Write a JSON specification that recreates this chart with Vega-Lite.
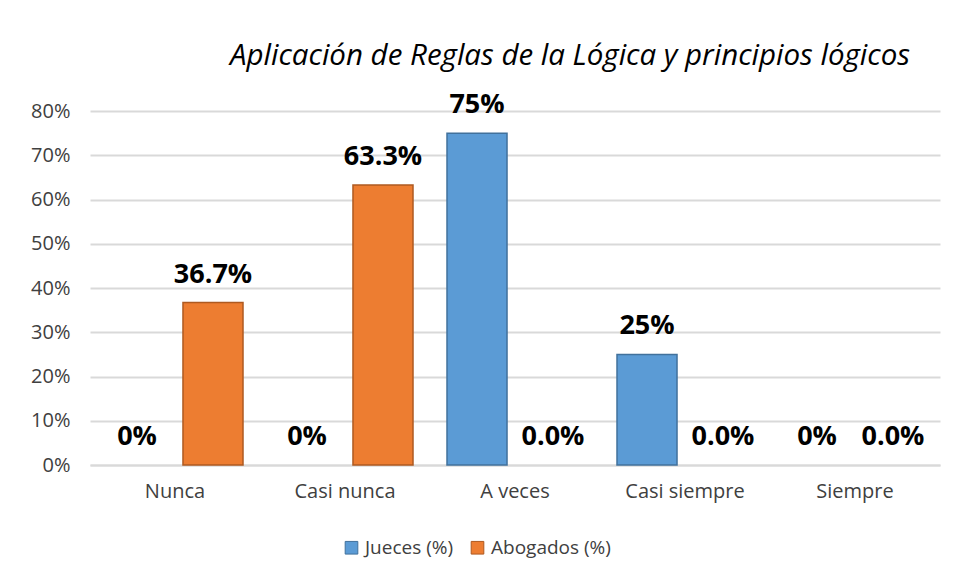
{
  "$schema": "https://vega.github.io/schema/vega-lite/v6.json",
  "width": 850,
  "height": 354,
  "autosize": "none",
  "padding": {"left": 90, "top": 111, "right": 14, "bottom": 117},
  "background": "white",
  "title": {
    "text": "Aplicación de Reglas de la Lógica y principios lógicos",
    "font": "Open Sans",
    "fontStyle": "italic",
    "fontWeight": "normal",
    "fontSize": 29.5,
    "color": "#000000",
    "anchor": "middle",
    "dx": 55,
    "offset": 20
  },
  "data": {
    "values": [
      {"cat": "Nunca", "serie": "Jueces (%)", "value": 0, "label": "0%"},
      {"cat": "Nunca", "serie": "Abogados (%)", "value": 0.367, "label": "36.7%"},
      {"cat": "Casi nunca", "serie": "Jueces (%)", "value": 0, "label": "0%"},
      {"cat": "Casi nunca", "serie": "Abogados (%)", "value": 0.633, "label": "63.3%"},
      {"cat": "A veces", "serie": "Jueces (%)", "value": 0.75, "label": "75%"},
      {"cat": "A veces", "serie": "Abogados (%)", "value": 0, "label": "0.0%"},
      {"cat": "Casi siempre", "serie": "Jueces (%)", "value": 0.25, "label": "25%"},
      {"cat": "Casi siempre", "serie": "Abogados (%)", "value": 0, "label": "0.0%"},
      {"cat": "Siempre", "serie": "Jueces (%)", "value": 0, "label": "0%"},
      {"cat": "Siempre", "serie": "Abogados (%)", "value": 0, "label": "0.0%"}
    ]
  },
  "encoding": {
    "x": {
      "field": "cat",
      "type": "nominal",
      "sort": ["Nunca", "Casi nunca", "A veces", "Casi siempre", "Siempre"],
      "scale": {"paddingInner": 0.2, "paddingOuter": 0.1},
      "axis": {
        "title": null,
        "labelAngle": 0,
        "labelFont": "Open Sans",
        "labelFontSize": 20,
        "labelColor": "#404040",
        "labelPadding": 16,
        "ticks": false,
        "domain": true,
        "domainColor": "#D9D9D9",
        "domainWidth": 2
      }
    },
    "xOffset": {
      "field": "serie",
      "type": "nominal",
      "sort": ["Jueces (%)", "Abogados (%)"],
      "scale": {"paddingInner": 0.21, "paddingOuter": 0}
    },
    "y": {
      "field": "value",
      "type": "quantitative",
      "scale": {"domain": [0, 0.8], "nice": false},
      "axis": {
        "title": null,
        "format": ".0%",
        "values": [0, 0.1, 0.2, 0.3, 0.4, 0.5, 0.6, 0.7, 0.8],
        "labelOverlap": false,
        "labelFont": "Open Sans",
        "labelFontSize": 20,
        "labelColor": "#404040",
        "labelPadding": 20,
        "ticks": false,
        "domain": false,
        "grid": true,
        "gridColor": "#D9D9D9",
        "gridWidth": 2
      }
    }
  },
  "layer": [
    {
      "transform": [{"filter": "datum.value > 0"}],
      "mark": {"type": "bar", "strokeWidth": 1.5},
      "encoding": {
        "color": {
          "field": "serie",
          "type": "nominal",
          "sort": ["Jueces (%)", "Abogados (%)"],
          "scale": {"domain": ["Jueces (%)", "Abogados (%)"], "range": ["#5B9BD5", "#ED7D31"]},
          "legend": {
            "title": null,
            "orient": "none",
            "legendX": 252,
            "legendY": 427,
            "direction": "horizontal",
            "symbolType": "square",
            "symbolSize": 160,
            "symbolStrokeWidth": 1,
            "labelFont": "Open Sans",
            "labelFontSize": 19,
            "labelColor": "#404040",
            "columnPadding": 14,
            "labelOffset": 4
          }
        },
        "stroke": {
          "field": "serie",
          "type": "nominal",
          "scale": {"domain": ["Jueces (%)", "Abogados (%)"], "range": ["#41719C", "#AE5A21"]},
          "legend": null
        }
      }
    },
    {
      "mark": {
        "type": "text",
        "font": "Open Sans",
        "fontWeight": "bold",
        "fontSize": 27,
        "color": "#000000",
        "baseline": "alphabetic",
        "dy": -20
      },
      "encoding": {"text": {"field": "label", "type": "nominal"}}
    }
  ],
  "config": {"view": {"stroke": null}}
}
